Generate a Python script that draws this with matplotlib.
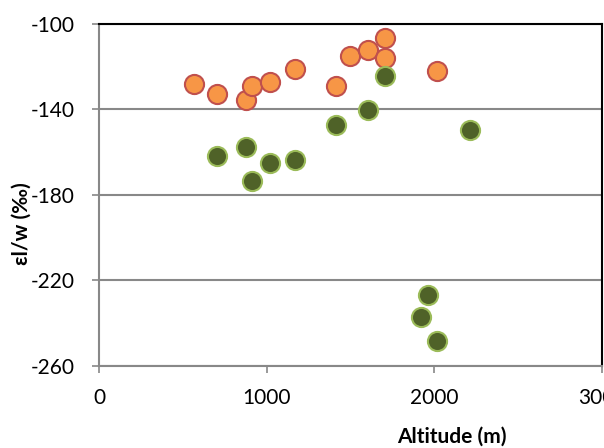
import matplotlib.pyplot as plt

# altitude (m) and epsilon l/w (permil)
alt_orange = [567, 701, 874, 913, 1015, 1166, 1413, 1497, 1602, 1702, 1702, 2012]
eps_orange = [-128.4, -132.7, -135.8, -129.2, -127.2, -121.3, -129.2, -115.2, -112.4, -106.9, -116.3, -122.2]

alt_green = [701, 874, 913, 1015, 1166, 1413, 1602, 1702, 2213, 1960, 1917, 2012]
eps_green = [-161.8, -157.6, -173.5, -165.1, -163.9, -147.5, -140.5, -124.6, -149.8, -226.7, -237.2, -248.2]

yticks = [-100, -140, -180, -220, -260]
xticks = [0, 1000, 2000, 3000]

plt.rcParams['font.family'] = ['Lato', 'DejaVu Sans']
plt.rcParams['axes.unicode_minus'] = False

fig = plt.figure(figsize=(6.04, 4.48), dpi=100)
ax = fig.add_axes([0.1647, 0.183, 0.832, 0.7645])

ax.scatter(alt_orange, eps_orange, s=190, c='#F79646', edgecolors='#C0504D', linewidths=1.5, zorder=3)
ax.scatter(alt_green, eps_green, s=190, c='#4F6228', edgecolors='#9BBB59', linewidths=1.5, zorder=3)

ax.set_xlim(0, 3000)
ax.set_ylim(-260, -100)
ax.set_xticks(xticks)
ax.set_yticks(yticks)
ax.yaxis.grid(True, color='#888888', linewidth=1.5)
ax.set_axisbelow(True)

for side in ['left', 'bottom']:
    ax.spines[side].set_color('#888888')
    ax.spines[side].set_linewidth(1.5)
for side in ['top', 'right']:
    ax.spines[side].set_color('black')
    ax.spines[side].set_linewidth(1.5)

ax.tick_params(axis='both', direction='out', length=5, width=1.2, color='#888888', labelsize=15)
ax.tick_params(axis='x', pad=11)
ax.tick_params(axis='y', pad=13)

fig.text(0.748, 0.025, 'Altitude (m)', ha='center', va='center', fontsize=15, fontweight='bold')
fig.text(0.036, 0.50, 'εl/w (‰)', ha='center', va='center', rotation=90, fontsize=15, fontweight='bold')

fig.savefig('out.png', dpi=100)
